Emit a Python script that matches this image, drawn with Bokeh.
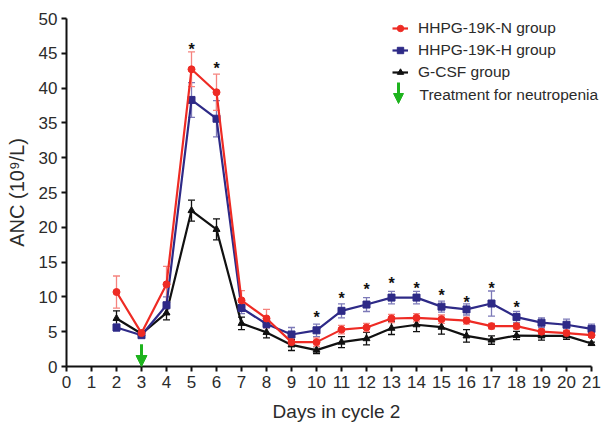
from bokeh.plotting import figure
from bokeh.models import (Range1d, FixedTicker, Whisker, TeeHead, Legend, LegendItem,
                          Arrow, NormalHead, Label, ColumnDataSource)
from bokeh.core.properties import value
from bokeh.embed import file_html
from bokeh.resources import INLINE

days = list(range(2, 22))
hhpg_n = [10.7, 4.8, 11.8, 42.7, 39.4, 9.5, 6.9, 3.5, 3.5, 5.3, 5.6, 6.9, 7.0, 6.8, 6.6, 5.8, 5.8, 5.0, 4.8, 4.5]
hhpg_n_err = [2.3, 0.3, 2.6, 2.5, 2.6, 1.4, 1.3, 0.6, 0.6, 0.6, 0.6, 0.6, 0.6, 0.6, 0.5, 0.4, 0.4, 0.4, 0.4, 0.3]
hhpg_h = [5.6, 4.5, 8.8, 38.3, 35.6, 8.4, 6.1, 4.6, 5.2, 8.0, 8.9, 9.9, 9.9, 8.6, 8.2, 9.05, 7.1, 6.3, 6.0, 5.4]
hhpg_h_err = [0.5, 0.3, 1.2, 2.5, 2.6, 0.8, 0.6, 1.0, 0.9, 1.0, 1.0, 0.9, 0.9, 0.8, 0.8, 1.8, 0.8, 0.7, 0.8, 0.7]
gcsf = [6.9, 4.7, 7.7, 22.4, 19.7, 6.2, 4.9, 3.1, 2.35, 3.5, 4.0, 5.5, 6.0, 5.65, 4.4, 3.8, 4.45, 4.4, 4.4, 3.3]
gcsf_err = [1.1, 0.4, 1.0, 1.5, 1.5, 0.9, 0.8, 0.8, 0.5, 0.8, 0.9, 0.9, 1.0, 1.0, 0.9, 0.6, 0.6, 0.6, 0.5, 0.2]

star_days = [5, 6, 10, 11, 12, 13, 14, 15, 16, 17, 18]
star_y = [46.8, 44.1, 8.4, 11.1, 12.4, 13.2, 12.5, 11.5, 10.5, 12.5, 9.8]

treatment_day = 3
treatment_arrow_top = 3.2

x_ticks = list(range(0, 22))
y_ticks = list(range(0, 51, 5))

RED = "#ee2b24"
BLUE = "#2e2a87"
BLACK = "#111111"
GREEN = "#1db31d"
TXT = "#2b2b2b"
FONT = "Liberation Sans"

p = figure(width=606, height=426, output_backend="svg", toolbar_location=None,
           x_range=Range1d(0, 21.6), y_range=Range1d(0, 50),
           min_border_left=66, min_border_right=0, min_border_top=18, min_border_bottom=60)
p.outline_line_color = None
p.grid.visible = False
p.background_fill_color = "white"

for ax, ticks in ((p.xaxis[0], x_ticks), (p.yaxis[0], y_ticks)):
    ax.ticker = FixedTicker(ticks=ticks)
    ax.minor_tick_line_color = None
    ax.major_tick_in = 0
    ax.major_tick_out = 5
    ax.major_tick_line_width = 2
    ax.axis_line_width = 2
    ax.axis_line_color = BLACK
    ax.major_tick_line_color = BLACK
    ax.major_label_text_font = FONT
    ax.major_label_text_color = TXT
    ax.axis_label_text_font = FONT
    ax.axis_label_text_font_style = "normal"
    ax.axis_label_text_color = TXT
    ax.major_label_standoff = 4

p.xaxis[0].bounds = (0, 21)
p.yaxis[0].bounds = (0, 50)
p.xaxis[0].major_label_text_font_size = "17px"
p.yaxis[0].major_label_text_font_size = "17px"
p.xaxis[0].axis_label = "Days in cycle 2"
p.yaxis[0].axis_label = "ANC (10\u2079/L)"
p.xaxis[0].axis_label_text_font_size = "19px"
p.yaxis[0].axis_label_text_font_size = "20px"
p.xaxis[0].axis_label_standoff = 10
p.yaxis[0].axis_label_standoff = 8

series = [
    (gcsf, gcsf_err, BLACK, BLACK, "triangle", 7, "G-CSF group"),
    (hhpg_h, hhpg_h_err, BLUE, "#7d7ab8", "square", 7, "HHPG-19K-H group"),
    (hhpg_n, hhpg_n_err, RED, "#f5837e", "circle", 7, "HHPG-19K-N group"),
]
items = {}
for vals, errs, col, ecol, mk, sz, lab in series:
    src = ColumnDataSource(dict(x=days, y=vals,
                                lo=[v - e for v, e in zip(vals, errs)],
                                hi=[v + e for v, e in zip(vals, errs)]))
    w = Whisker(base="x", lower="lo", upper="hi", source=src, line_color=ecol, line_width=1.3,
                upper_head=TeeHead(size=7, line_color=ecol, line_width=1.3),
                lower_head=TeeHead(size=7, line_color=ecol, line_width=1.3))
    p.add_layout(w)
    ln = p.line("x", "y", source=src, line_color=col, line_width=2.2)
    sc = p.scatter("x", "y", source=src, marker=mk, size=sz, fill_color=col, line_color=col)
    items[lab] = LegendItem(label=lab, renderers=[ln, sc])

p.text(x=star_days, y=star_y, text=["*"] * len(star_days), text_font=value(FONT),
       text_font_size="16px", text_font_style="bold", text_color=BLACK,
       text_align="center", text_baseline="alphabetic", y_offset=9)

p.add_layout(Arrow(x_start=treatment_day, y_start=treatment_arrow_top,
                   x_end=treatment_day, y_end=0, line_color=GREEN, line_width=3,
                   end=NormalHead(size=11, fill_color=GREEN, line_color=GREEN)))

legend = Legend(items=[items["HHPG-19K-N group"], items["HHPG-19K-H group"], items["G-CSF group"]],
                location=(326, 284), orientation="vertical",
                border_line_color=None, background_fill_alpha=0,
                padding=0, margin=0, spacing=2, glyph_width=16, glyph_height=20,
                label_height=20, label_standoff=10,
                label_text_font=FONT, label_text_font_size="15.5px", label_text_color=TXT)
p.add_layout(legend)

p.add_layout(Arrow(x_start=332, y_start=284, x_end=332, y_end=263,
                   start_units="screen", end_units="screen",
                   line_color=GREEN, line_width=3,
                   end=NormalHead(size=10, fill_color=GREEN, line_color=GREEN)))
p.add_layout(Label(x=353, y=272, x_units="screen", y_units="screen",
                   text="Treatment for neutropenia", text_font=FONT, text_font_size="15.5px",
                   text_color=TXT, text_baseline="middle"))

open("out.html", "w").write(file_html(p, INLINE))
